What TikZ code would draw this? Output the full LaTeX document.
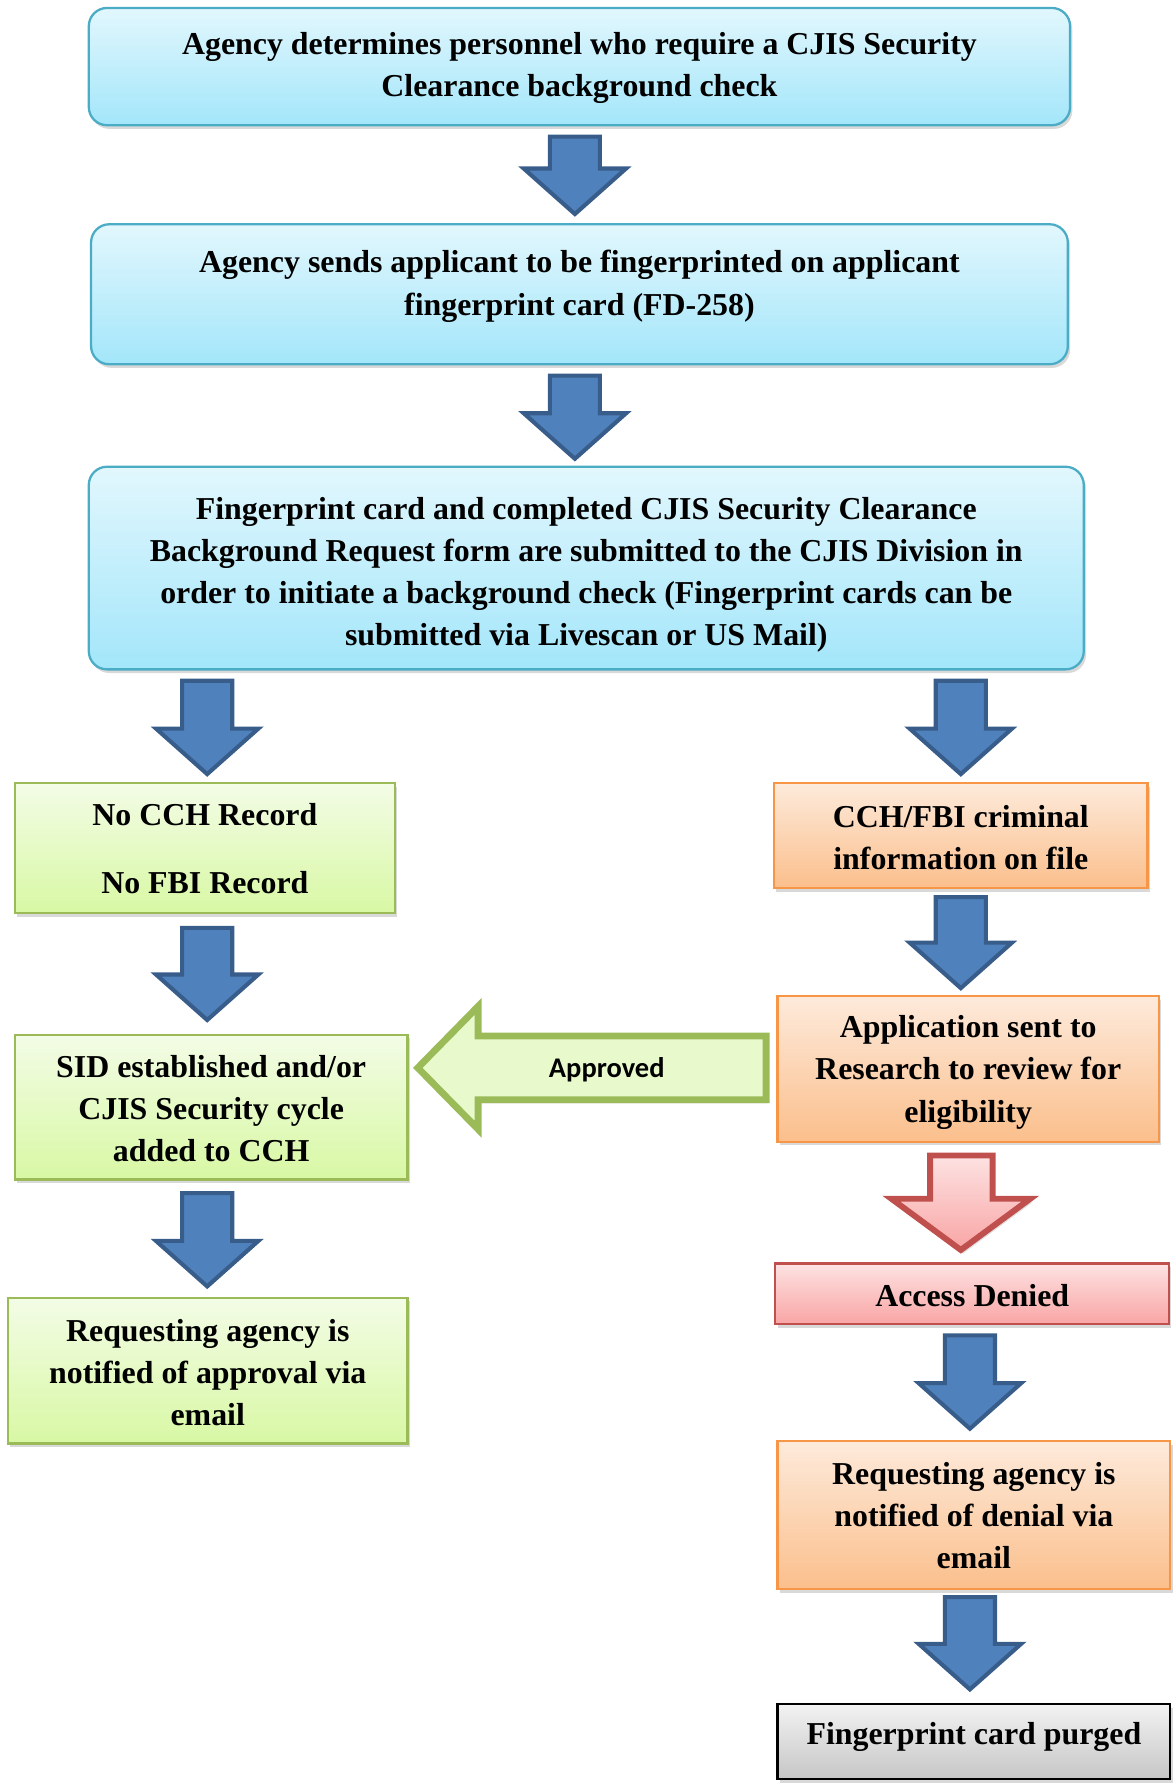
\documentclass[tikz,border=0pt]{standalone}
\usepackage{fontspec}
\setmainfont{Liberation Serif}
\newfontfamily\calibfont{Carlito}
\usetikzlibrary{fit,shadows,calc}
\definecolor{cyanline}{HTML}{4BACC6}
\definecolor{cyantop}{HTML}{E2F7FD}
\definecolor{cyanbot}{HTML}{A3E6FA}
\definecolor{greenline}{HTML}{9BBB59}
\definecolor{greentop}{HTML}{F3FCE6}
\definecolor{greenbot}{HTML}{D8F8A4}
\definecolor{orangeline}{HTML}{F79646}
\definecolor{orangetop}{HTML}{FDEADB}
\definecolor{orangebot}{HTML}{FBBF8C}
\definecolor{redline}{HTML}{C0504D}
\definecolor{redtop}{HTML}{FDE2E2}
\definecolor{redbot}{HTML}{F9A5A5}
\definecolor{graytop}{HTML}{F2F2F2}
\definecolor{graybot}{HTML}{C6C6C6}
\definecolor{bluefill}{HTML}{4F81BD}
\definecolor{blueline}{HTML}{385D8A}
\newcommand\BlueDown[3]{%
  \draw[bluearrow] (#1-22,#2) -- (#1+22,#2) -- (#1+22,#3-40) -- (#1+45,#3-40) -- (#1,#3)
    -- (#1-45,#3-40) -- (#1-22,#3-40) -- cycle;}
\begin{document}
\begin{tikzpicture}[x=0.5pt,y=-0.5pt,
  box/.style={draw, line width=1pt, inner sep=0pt,
    drop shadow={shadow xshift=1pt, shadow yshift=-1.6pt, opacity=0.3}},
  txt/.style={align=center, inner sep=0pt, font=\fontsize{14}{18.5}\selectfont\bfseries},
  cyanbox/.style={box, rounded corners=8pt, draw=cyanline, top color=cyantop, bottom color=cyanbot},
  greenbox/.style={box, draw=greenline, top color=greentop, bottom color=greenbot},
  orangebox/.style={box, draw=orangeline, top color=orangetop, bottom color=orangebot},
  redbox/.style={box, draw=redline, top color=redtop, bottom color=redbot},
  graybox/.style={box, draw=black, top color=graytop, bottom color=graybot},
  bluearrow/.style={draw=blueline, fill=bluefill, line width=1.8pt, line join=miter},
  redarrow/.style={draw=redline, line width=2.6pt, top color=redtop, bottom color=redbot,
    drop shadow={shadow xshift=1pt, shadow yshift=-1.6pt, opacity=0.25}},
  apparrow/.style={draw=greenline, line width=3pt, fill=greentop!60!greenbot,
    drop shadow={shadow xshift=1pt, shadow yshift=-1.6pt, opacity=0.25}},
  applabel/.style={font=\calibfont\bfseries\fontsize{12.5}{15}\selectfont}
]
\useasboundingbox (0,0) rectangle (1033,1568);

% boxes
\node[cyanbox, fit={(78,7) (940,110)}] (b1) {};
\node[cyanbox, fit={(80,197) (938,320)}] (b2) {};
\node[cyanbox, fit={(78,410) (952,588)}] (b3) {};
\node[greenbox, fit={(13,688) (347,802)}] (g1) {};
\node[greenbox, fit={(13,909) (358,1036)}] (g2) {};
\node[greenbox, fit={(7,1140) (358,1268)}] (g3) {};
\node[orangebox, fit={(680,688) (1008,780)}] (o1) {};
\node[orangebox, fit={(683,875) (1018,1003)}] (o2) {};
\node[redbox, fit={(681,1110) (1027,1163)}] (r1) {};
\node[orangebox, fit={(683,1266) (1028,1396)}] (o3) {};
\node[graybox, fit={(683,1497) (1028,1563)}] (p1) {};

% box texts
\node[txt] (b1t) at ($(b1.center)+(0,1)$) {Agency determines personnel who require a CJIS Security\\Clearance background check};
\node[txt] (b2t) at ($(b2.center)+(0,-7)$) {Agency sends applicant to be fingerprinted on applicant\\fingerprint card (FD-258)};
\node[txt] (b3t) at ($(b3.center)+(0,6)$) {Fingerprint card and completed CJIS Security Clearance\\Background Request form are submitted to the CJIS Division in\\order to initiate a background check (Fingerprint cards can be\\submitted via Livescan or US Mail)};
\node[txt] (g1t) at ($(g1.center)+(0,0.5)$) {No CCH Record\\[11.5pt]No FBI Record};
\node[txt] (g2t) at ($(g2.center)+(0,1.5)$) {SID established and/or\\CJIS Security cycle\\added to CCH};
\node[txt] (g3t) at ($(g3.center)+(0,1.5)$) {Requesting agency is\\notified of approval via\\email};
\node[txt] (o1t) at ($(o1.center)+(0,1.5)$) {CCH/FBI criminal\\information on file};
\node[txt] (o2t) at ($(o2.center)+(0,3)$) {Application sent to\\Research to review for\\eligibility};
\node[txt] (r1t) at ($(r1.center)+(0,1.5)$) {Access Denied};
\node[txt] (o3t) at ($(o3.center)+(0,0)$) {Requesting agency is\\notified of denial via\\email};
\node[txt] (p1t) at ($(p1.center)+(0,-4.5)$) {Fingerprint card purged};

% connectors (block arrows)
\BlueDown{505}{120}{188}
\BlueDown{505}{330}{403}
\BlueDown{182}{598}{680}
\BlueDown{844}{598}{680}
\BlueDown{182}{815}{896}
\BlueDown{844}{788}{868}
\BlueDown{182}{1048}{1130}
\BlueDown{852}{1173}{1255}
\BlueDown{852}{1403}{1484}

\draw[redarrow] (817,1015) -- (872,1015) -- (872,1053) -- (905,1053) -- (844,1098)
  -- (783,1053) -- (817,1053) -- cycle;

\draw[apparrow] (673,910) -- (420,910) -- (420,884) -- (367,938) -- (420,992)
  -- (420,966) -- (673,966) -- cycle;
\node[applabel] (appr) at (533,940) {Approved};
\end{tikzpicture}
\end{document}
